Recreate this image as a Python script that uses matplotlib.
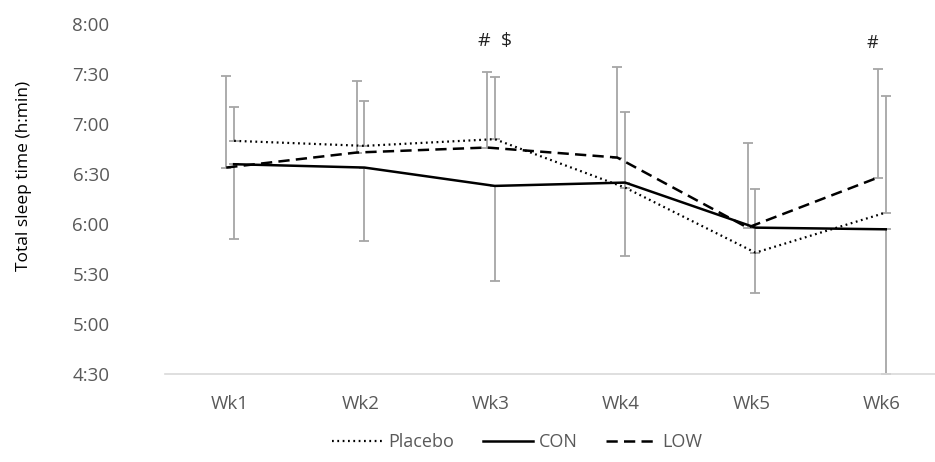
import matplotlib.pyplot as plt
import numpy as np

plt.rcParams['font.family'] = ['Open Sans', 'DejaVu Sans']

# Weekly total sleep time, in minutes
weeks = ['Wk1', 'Wk2', 'Wk3', 'Wk4', 'Wk5', 'Wk6']
placebo = [410, 407, 411, 382, 343, 367]
con = [396, 394, 383, 385, 358, 357]
low = [394, 403, 406, 400, 358, 388]

# Error bars (Placebo and LOW upward only, CON downward only)
placebo_err = [20, 27, 37, 45, 38, 70]
low_err = [55, 43, 45, 54, 51, 65]
con_err = [45, 44, 57, 44, 39, 87]

y_ticks = [270, 300, 330, 360, 390, 420, 450, 480]


def fmt_time(m):
    return f"{int(m // 60)}:{int(m % 60):02d}"


fig = plt.figure(figsize=(9.35, 4.62), dpi=100)
ax = fig.add_axes([165 / 935, 0.1894, 782 / 935, 0.7586])

x = np.arange(len(weeks))
off = 0.03
zeros = np.zeros(len(weeks))
grey = '#a6a6a6'

# error bars first so lines sit on top
ax.errorbar(x - off, low, yerr=[zeros, low_err], fmt='none', ecolor=grey,
            elinewidth=1.3, capsize=3.6, capthick=1.3, zorder=2)
ax.errorbar(x + off, placebo, yerr=[zeros, placebo_err], fmt='none', ecolor=grey,
            elinewidth=1.3, capsize=3.6, capthick=1.3, zorder=2)
ax.errorbar(x + off, con, yerr=[con_err, zeros], fmt='none', ecolor=grey,
            elinewidth=1.3, capsize=3.6, capthick=1.3, zorder=2)

ax.plot(x + off, placebo, color='black', lw=1.6, linestyle=(0, (0.8, 1.6)),
        label='Placebo', zorder=3)
ax.plot(x + off, con, color='black', lw=1.8, label='CON', zorder=3)
ax.plot(x - off, low, color='black', lw=1.8, linestyle=(0, (4.5, 2.5)),
        label='LOW', zorder=3)

ax.text(2 + off, 470, '#  $', ha='center', va='center', fontsize=14, color='#222222')
ax.text(4.93, 468.5, '#', ha='center', va='center', fontsize=13, color='#222222')

ax.set_xlim(-0.5, 5.5)
ax.set_ylim(270, 480)
ax.set_xticks(x)
ax.set_xticklabels(weeks)
ax.set_yticks(y_ticks)
ax.set_yticklabels([fmt_time(t) for t in y_ticks])
ax.tick_params(axis='both', length=0, labelsize=13.5, labelcolor='#595959')
ax.tick_params(axis='y', pad=40)
ax.tick_params(axis='x', pad=15)

for s in ['top', 'right', 'left']:
    ax.spines[s].set_visible(False)
ax.spines['bottom'].set_color('#d9d9d9')
ax.spines['bottom'].set_linewidth(1.2)

fig.text(24 / 935, 1 - 176 / 462, 'Total sleep time (h:min)', rotation=90,
         ha='center', va='center', fontsize=12.5, color='black')

fig.legend(loc='center', bbox_to_anchor=(517 / 935, 1 - 442 / 462), ncol=3,
           frameon=False, fontsize=13, labelcolor='#595959', handlelength=2.8,
           handletextpad=0.3, columnspacing=1.6)

fig.savefig('out.png', dpi=100)
